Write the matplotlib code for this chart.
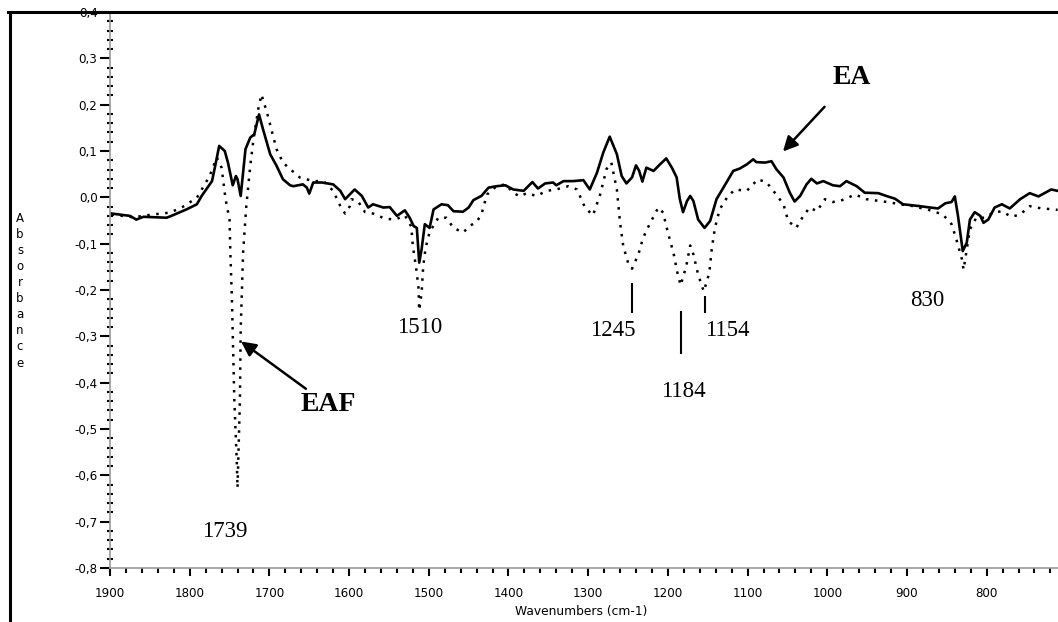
import matplotlib
matplotlib.use("Agg")
import matplotlib.pyplot as plt
from matplotlib.ticker import MultipleLocator, FuncFormatter
from matplotlib.lines import Line2D

# EA spectrum (solid)
wn_ea = [1898, 1875, 1867, 1858, 1829, 1823, 1804, 1791, 1785, 1772, 1768, 1763,
         1756, 1752, 1746, 1742, 1740, 1736, 1730, 1724, 1719, 1713, 1708, 1699,
         1691, 1683, 1674, 1670, 1658, 1653, 1650, 1645, 1634, 1620, 1611, 1605,
         1593, 1584, 1576, 1570, 1557, 1549, 1540, 1530, 1524, 1519, 1515, 1512,
         1509, 1505, 1499, 1494, 1484, 1476, 1469, 1457, 1450, 1444, 1434, 1425,
         1415, 1404, 1394, 1381, 1370, 1363, 1354, 1344, 1340, 1331, 1319, 1306,
         1298, 1289, 1281, 1273, 1264, 1258, 1252, 1245, 1240, 1236, 1232, 1227,
         1218, 1210, 1202, 1195, 1189, 1185, 1181, 1176, 1172, 1168, 1162, 1154,
         1147, 1139, 1131, 1118, 1110, 1101, 1093, 1089, 1078, 1070, 1064, 1055,
         1047, 1041, 1034, 1026, 1020, 1013, 1005, 993, 984, 976, 963, 953, 936,
         926, 915, 905, 884, 871, 861, 852, 844, 840, 836, 830, 825, 821, 815, 808,
         804, 798, 790, 781, 771, 758, 746, 735, 719, 711]
abs_ea = [-0.035, -0.040, -0.048, -0.042, -0.044, -0.040, -0.026, -0.015, 0.003,
          0.035, 0.068, 0.111, 0.100, 0.075, 0.026, 0.046, 0.039, 0.003, 0.104,
          0.129, 0.136, 0.179, 0.147, 0.093, 0.068, 0.039, 0.026, 0.024, 0.028,
          0.021, 0.008, 0.032, 0.032, 0.028, 0.014, -0.004, 0.017, 0.003, -0.022,
          -0.015, -0.022, -0.021, -0.040, -0.028, -0.044, -0.062, -0.066, -0.141,
          -0.112, -0.058, -0.066, -0.026, -0.015, -0.017, -0.030, -0.031, -0.022,
          -0.006, 0.003, 0.021, 0.024, 0.026, 0.017, 0.014, 0.033, 0.019, 0.030,
          0.032, 0.026, 0.035, 0.035, 0.037, 0.017, 0.053, 0.097, 0.131, 0.093,
          0.046, 0.030, 0.043, 0.069, 0.057, 0.034, 0.064, 0.057, 0.071, 0.084,
          0.064, 0.043, -0.004, -0.032, -0.008, 0.003, -0.008, -0.048, -0.066,
          -0.051, -0.004, 0.019, 0.057, 0.062, 0.071, 0.082, 0.076, 0.075, 0.078,
          0.061, 0.043, 0.010, -0.009, 0.003, 0.028, 0.040, 0.030, 0.035, 0.026,
          0.024, 0.035, 0.024, 0.010, 0.009, 0.003, -0.003, -0.015, -0.019, -0.022,
          -0.024, -0.013, -0.010, 0.002, -0.040, -0.116, -0.098, -0.048, -0.032,
          -0.040, -0.055, -0.048, -0.022, -0.015, -0.024, -0.004, 0.009, 0.002,
          0.017, 0.014]

# EAF spectrum (dotted)
wn_eaf = [1898, 1871, 1846, 1825, 1810, 1791, 1775, 1766, 1760, 1755, 1750, 1749,
          1747, 1744, 1741, 1740, 1739, 1737, 1736, 1734, 1733, 1729, 1724, 1720,
          1714, 1710, 1703, 1697, 1691, 1683, 1674, 1662, 1645, 1632, 1620, 1611,
          1605, 1599, 1597, 1589, 1580, 1570, 1555, 1542, 1530, 1522, 1520, 1516,
          1513, 1512, 1509, 1507, 1504, 1499, 1488, 1478, 1469, 1457, 1448, 1440,
          1434, 1427, 1415, 1404, 1394, 1386, 1377, 1365, 1352, 1340, 1325, 1314,
          1304, 1294, 1285, 1277, 1271, 1264, 1260, 1256, 1250, 1245, 1237, 1231,
          1223, 1212, 1206, 1200, 1193, 1188, 1184, 1177, 1172, 1168, 1162, 1155,
          1148, 1145, 1141, 1135, 1126, 1116, 1101, 1087, 1076, 1064, 1055, 1049,
          1039, 1030, 1022, 1013, 1003, 993, 984, 965, 951, 934, 921, 909, 892,
          871, 855, 844, 838, 831, 829, 825, 821, 813, 802, 792, 781, 769, 758,
          746, 731, 716, 711]
abs_eaf = [-0.037, -0.043, -0.037, -0.033, -0.022, -0.001, 0.046, 0.086, 0.064,
           -0.004, -0.048, -0.119, -0.221, -0.437, -0.566, -0.627, -0.566, -0.437,
           -0.285, -0.177, -0.119, -0.019, 0.068, 0.125, 0.190, 0.222, 0.183,
           0.143, 0.104, 0.075, 0.061, 0.043, 0.035, 0.035, 0.014, -0.019, -0.035,
           -0.019, -0.004, -0.008, -0.032, -0.035, -0.046, -0.048, -0.039, -0.063,
           -0.105, -0.151, -0.194, -0.244, -0.206, -0.149, -0.109, -0.075, -0.044,
           -0.044, -0.066, -0.076, -0.061, -0.053, -0.037, 0.006, 0.024, 0.028,
           0.010, 0.002, 0.009, 0.003, 0.014, 0.017, 0.024, 0.017, -0.022, -0.039,
           0.006, 0.061, 0.075, 0.017, -0.055, -0.105, -0.141, -0.154, -0.123,
           -0.087, -0.058, -0.022, -0.033, -0.076, -0.120, -0.163, -0.190, -0.149,
           -0.104, -0.123, -0.167, -0.203, -0.163, -0.112, -0.066, -0.026, -0.001,
           0.017, 0.014, 0.039, 0.032, 0.006, -0.015, -0.051, -0.066, -0.040,
           -0.022, -0.030, -0.004, -0.010, -0.008, 0.006, -0.004, -0.008, -0.011,
           -0.015, -0.019, -0.028, -0.037, -0.058, -0.091, -0.134, -0.156, -0.112,
           -0.069, -0.044, -0.044, -0.033, -0.030, -0.042, -0.037, -0.019, -0.024,
           -0.026, -0.027]

peak_labels = ["1739", "1510", "1245", "1184", "1154", "830"]
peak_label_x = [1756, 1511, 1269, 1181, 1125, 874]
peak_label_y = [-0.722, -0.281, -0.288, -0.419, -0.288, -0.223]

marker_wn = [1245, 1184, 1154]
marker_top = [-0.184, -0.246, -0.214]
marker_bottom = [-0.249, -0.339, -0.249]

W, H = 1058, 622
fig = plt.figure(figsize=(W / 100, H / 100), dpi=100)
ax = fig.add_axes([110 / W, 54 / H, 948 / W, 556 / H])

ax.plot(wn_ea, abs_ea, color="black", lw=1.9)
ax.plot(wn_eaf, abs_eaf, color="black", lw=1.8, linestyle=(0, (1, 2.6)))

ax.vlines(marker_wn, marker_bottom, marker_top, color="black", lw=1.5)

serif = "Liberation Serif"
for txt, x, y in zip(peak_labels, peak_label_x, peak_label_y):
    ax.text(x, y, txt, family=serif, fontsize=16.5, ha="center", va="center")

ax.annotate("EA", xy=(1055.6, 0.099), xytext=(969, 0.259),
            family=serif, fontsize=20, fontweight="bold", ha="center", va="center",
            arrowprops=dict(arrowstyle="-|>", color="black", lw=1.8,
                            mutation_scale=22, shrinkA=14, shrinkB=0))
ax.annotate("EAF", xy=(1735.6, -0.311), xytext=(1626.5, -0.448),
            family=serif, fontsize=20, fontweight="bold", ha="center", va="center",
            arrowprops=dict(arrowstyle="-|>", color="black", lw=1.8,
                            mutation_scale=22, shrinkA=1, shrinkB=0))

ax.set_xlim(1900, 710.5)
ax.set_ylim(-0.8, 0.4)

ax.xaxis.set_major_locator(MultipleLocator(100))
ax.xaxis.set_minor_locator(MultipleLocator(20))
ax.yaxis.set_major_locator(MultipleLocator(0.1))
ax.yaxis.set_minor_locator(MultipleLocator(0.02))


def comma_fmt(v, pos):
    s = f"{v:.1f}".replace(".", ",")
    return "0,0" if s == "-0,0" else s


ax.yaxis.set_major_formatter(FuncFormatter(comma_fmt))

for side in ("top", "right"):
    ax.spines[side].set_visible(False)
for side in ("left", "bottom"):
    ax.spines[side].set_color("0.6")
    ax.spines[side].set_linestyle((0, (1, 1)))
    ax.spines[side].set_linewidth(1.2)

ax.tick_params(axis="both", which="both", colors="black", labelsize=8.6)
ax.tick_params(axis="x", which="major", direction="out", length=6, width=1.5, pad=8)
ax.tick_params(axis="x", which="minor", direction="out", length=3.5, width=1.5)
ax.tick_params(axis="y", which="major", direction="out", length=7, width=1.5, pad=2)
ax.tick_params(axis="y", which="minor", direction="inout", length=4, width=1.5)
for lbl in ax.get_xticklabels() + ax.get_yticklabels():
    lbl.set_family("DejaVu Sans")

fig.canvas.draw()
ax.yaxis.get_major_ticks()[-1].label1.set_verticalalignment("top")

# y label written as a column of upright letters
ylabel = "Absorbance"
top_px, bottom_px = 218, 363
step = (bottom_px - top_px) / (len(ylabel) - 1)
for i, ch in enumerate(ylabel):
    fig.text(20 / W, 1 - (top_px + i * step) / H, ch, fontsize=8.5,
             family="DejaVu Sans", ha="center", va="center")
fig.text(581 / W, 10 / H, "Wavenumbers (cm-1)", fontsize=8.8, family="DejaVu Sans",
         ha="center", va="center")

# page border on top and left
fig.add_artist(Line2D([8 / W, 1], [1 - 11.5 / H, 1 - 11.5 / H], color="black",
                      lw=2.2, transform=fig.transFigure))
fig.add_artist(Line2D([9.5 / W, 9.5 / W], [0, 1 - 11.5 / H], color="black",
                      lw=2.2, transform=fig.transFigure))

fig.savefig("out.png", dpi=100)
